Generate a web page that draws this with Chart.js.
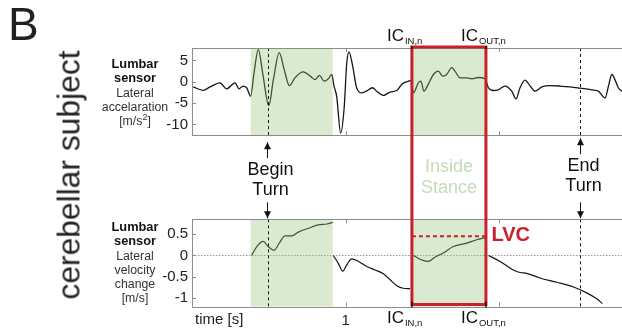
<!DOCTYPE html>
<html>
<head>
<meta charset="utf-8">
<script src="https://cdn.jsdelivr.net/npm/chart.js@4.4.1/dist/chart.umd.min.js"></script>
<style>
  body { margin: 0; background: #fff; }
  #wrap { position: relative; width: 622px; height: 329px; overflow: hidden;
          font-family: "Liberation Sans", Arial, sans-serif; color: #222; }
  #chart { position: absolute; left: 0; top: 0; }
  .letter { position: absolute; left: 8px; top: 1px; font-size: 46px; line-height: 46px; }
  .subject { position: absolute; left: 69px; top: 175px; font-size: 31.8px; line-height: 31px;
             white-space: nowrap; transform: translate(-50%, -50%) rotate(-90deg); }
  .sensor { position: absolute; left: 88px; width: 94px; text-align: center;
            font-size: 12.3px; line-height: 14.3px; color: #333; }
  .sensor b { color: #111; font-size: 12.8px; }
</style>
</head>
<body>
<div id="wrap">
  <canvas id="chart" width="622" height="329"></canvas>
  <div class="letter">B</div>
  <div class="subject">cerebellar subject</div>
  <div class="sensor" style="top:57px"><b>Lumbar<br>sensor</b><br>Lateral<br>accelaration<br>[m/s<sup style="font-size:9px;line-height:0">2</sup>]</div>
  <div class="sensor" style="top:220px"><b>Lumbar<br>sensor</b><br>Lateral<br>velocity<br>change<br>[m/s]</div>
</div>
<script>
// time axis [s]
const xTicks = [0.5, 1, 1.5];

// lateral acceleration [m/s^2]
const accTime = [0.504, 0.536, 0.559, 0.591, 0.613, 0.640, 0.653, 0.666, 0.678, 0.691,
  0.702, 0.716, 0.730, 0.750, 0.765, 0.784, 0.800, 0.817, 0.835, 0.862,
  0.887, 0.901, 0.915, 0.930, 0.944, 0.955, 0.962, 0.971, 0.984, 0.995,
  1.004, 1.011, 1.023, 1.036, 1.053, 1.067, 1.088, 1.101, 1.123, 1.145,
  1.168, 1.184, 1.203, 1.213, 1.221, 1.237, 1.245, 1.255, 1.269, 1.286,
  1.302, 1.316, 1.329, 1.346, 1.356, 1.373, 1.395, 1.411, 1.432, 1.454,
  1.465, 1.481, 1.497, 1.519, 1.541, 1.555, 1.568, 1.584, 1.601, 1.617,
  1.639, 1.666, 1.698, 1.731, 1.763, 1.802, 1.823, 1.845, 1.856, 1.867,
  1.877, 1.888, 1.900];
const accValue = [-1.2, -2.0, -1.2, -0.25, -1.65, -0.25, -1.65, -1.0, -1.4, -3.4,
  2.1, 7.6, 2.1, -5.6, 0.5, 6.8, 2.9, -0.9, 0.9, 2.3,
  1.2, 0.5, 1.5, 0.15, 0.7, 1.7, -0.9, -3.4, -12.0, -6.5,
  4.5, 7.0, 3.7, -1.4, -2.6, -2.2, -1.4, -2.2, -3.2, -2.4,
  -2.0, -0.5, 0.1, 0.3, -2.6, -0.25, 0.15, -2.2, -0.6, 1.7,
  2.5, 1.3, 1.7, 3.3, 2.5, 0.9, 0.9, 0.7, 1.0, 0.7,
  -1.4, -2.05, -1.9, -1.0, -2.2, -4.0, -1.4, 0.4, -1.0, -2.2,
  -1.2, -0.9, -1.0, -1.2, -1.5, -1.9, -2.2, -3.8, -1.0, 1.7,
  0.5, -1.4, -2.2];

// lateral velocity change [m/s], one piece per stance (null = break)
const velTime = [0.694, 0.711, 0.732, 0.748, 0.767, 0.784, 0.803, 0.825, 0.846, 0.879, 0.911, 0.939, 0.958,
  0.959,
  0.960, 0.976, 0.991, 1.004, 1.020, 1.042, 1.069, 1.096, 1.123, 1.145, 1.167, 1.188, 1.210,
  1.215,
  1.221, 1.242, 1.269, 1.291, 1.318, 1.351, 1.395, 1.427, 1.454,
  1.460,
  1.465, 1.503, 1.546, 1.568, 1.590, 1.633, 1.688, 1.742, 1.785, 1.818, 1.836];
const velValue = [0, 0.21, 0.33, 0.21, 0.12, 0.29, 0.46, 0.46, 0.55, 0.64, 0.72, 0.74, 0.78,
  null,
  0, -0.18, -0.37, -0.22, -0.08, -0.14, -0.26, -0.34, -0.43, -0.57, -0.71, -0.77, -0.78,
  null,
  0, -0.09, -0.14, -0.04, 0.06, 0.21, 0.29, 0.37, 0.42,
  null,
  0, -0.14, -0.34, -0.40, -0.42, -0.53, -0.63, -0.74, -0.88, -1.02, -1.13];

const accTicks = [-10, -5, 0, 5];
const velTicks = [-1, -0.5, 0, 0.5];

// events
const shadeStart = [0.691, 1.216];
const shadeEnd = [0.958, 1.457];
const turnTimes = [0.748, 1.763];
const turnLabels = [['Begin', 'Turn'], ['End', 'Turn']];
const icIn = 1.216;
const icOut = 1.457;
const lvcValue = 0.45;

const FONT = '"Liberation Sans", Arial, sans-serif';
const AXIS_GREY = '#8c8c8c';
const RED = '#c8212b';

function hline(ctx, x0, x1, y) {
  ctx.beginPath(); ctx.moveTo(x0, y); ctx.lineTo(x1, y); ctx.stroke();
}
function vline(ctx, x, y0, y1) {
  ctx.beginPath(); ctx.moveTo(x, y0); ctx.lineTo(x, y1); ctx.stroke();
}
function arrow(ctx, x, y0, y1) {
  vline(ctx, x, y0, y1);
  const d = y1 > y0 ? 1 : -1;
  ctx.beginPath();
  ctx.moveTo(x, y1);
  ctx.lineTo(x - 3.5, y1 - d * 7);
  ctx.lineTo(x + 3.5, y1 - d * 7);
  ctx.closePath();
  ctx.fill();
}
function icLabel(ctx, x, yBase, sub) {
  ctx.fillStyle = '#111';
  ctx.textAlign = 'left';
  ctx.textBaseline = 'alphabetic';
  ctx.font = '17px ' + FONT;
  const left = x - 25;
  ctx.fillText('IC', left, yBase);
  const w = ctx.measureText('IC').width;
  ctx.font = '9.5px ' + FONT;
  ctx.fillText(sub, left + w + 1, yBase + 3);
}

const px = v => Math.round(v) + 0.5;

const overlay = {
  id: 'overlay',
  beforeDatasetsDraw(chart) {
    const {ctx, scales: {x, yVel}} = chart;
    ctx.save();
    ctx.strokeStyle = '#9a9a9a';
    ctx.lineWidth = 1;
    ctx.setLineDash([1.5, 1.5]);
    hline(ctx, x.left, x.right, px(yVel.getPixelForValue(0)));
    ctx.restore();
  },
  afterDatasetsDraw(chart) {
    const {ctx, scales: {x, yAcc, yVel}} = chart;
    const panels = [yAcc, yVel];
    ctx.save();

    // green stance shading
    ctx.fillStyle = 'rgba(150, 195, 120, 0.35)';
    shadeStart.forEach((t, i) => {
      const a = x.getPixelForValue(t), b = x.getPixelForValue(shadeEnd[i]);
      panels.forEach(s => ctx.fillRect(a, s.top, b - a, s.bottom - s.top));
    });

    // turn markers
    ctx.strokeStyle = '#111';
    ctx.lineWidth = 1;
    ctx.setLineDash([3, 3]);
    turnTimes.forEach(t => {
      const xp = px(x.getPixelForValue(t));
      panels.forEach(s => vline(ctx, xp, s.top, s.bottom));
    });
    ctx.setLineDash([]);

    // panel frames and inward ticks
    ctx.strokeStyle = AXIS_GREY;
    panels.forEach(s => {
      hline(ctx, x.left, x.right, px(s.top));
      hline(ctx, x.left, x.right, px(s.bottom));
      vline(ctx, px(x.left), s.top, s.bottom);
      xTicks.forEach(t => {
        const xp = px(x.getPixelForValue(t));
        vline(ctx, xp, s.top, s.top + 4);
        vline(ctx, xp, s.bottom - 4, s.bottom);
      });
    });
    accTicks.forEach(v => hline(ctx, x.left, x.left + 4, px(yAcc.getPixelForValue(v))));
    velTicks.forEach(v => hline(ctx, x.left, x.left + 4, px(yVel.getPixelForValue(v))));

    // turn labels with arrows between the panels
    const gTop = yAcc.bottom, gBot = yVel.top;
    ctx.fillStyle = '#111';
    ctx.strokeStyle = '#111';
    ctx.font = '18px ' + FONT;
    ctx.textAlign = 'center';
    ctx.textBaseline = 'middle';
    turnTimes.forEach((t, i) => {
      const xp = px(x.getPixelForValue(t)) - (i === 0 ? 1 : 0);
      const off = i === 0 ? 0 : -4;
      arrow(ctx, xp, gTop + 23 + off, gTop + 7 + off);
      ctx.fillText(turnLabels[i][0], xp + 3, gTop + 35 + off);
      ctx.fillText(turnLabels[i][1], xp + 3, gTop + 55 + off);
      arrow(ctx, xp, gBot - 17, gBot - 1);
    });

    // inside stance label
    const xIn = x.getPixelForValue(icIn), xOut = x.getPixelForValue(icOut);
    ctx.fillStyle = 'rgb(197, 219, 185)';
    ctx.fillText('Inside', (xIn + xOut) / 2, gTop + 32);
    ctx.fillText('Stance', (xIn + xOut) / 2, gTop + 53);

    // LVC dashed level
    const yL = yVel.getPixelForValue(lvcValue);
    ctx.strokeStyle = RED;
    ctx.lineWidth = 2;
    ctx.setLineDash([4, 3]);
    hline(ctx, xIn, xOut, yL);
    ctx.setLineDash([]);

    // red stance box
    ctx.lineWidth = 3;
    ctx.strokeRect(xIn, yAcc.top - 1, xOut - xIn, yVel.bottom - 2 - (yAcc.top - 1));
    ctx.strokeStyle = '#111';
    ctx.lineWidth = 1.5;
    [xIn, xOut].forEach(xp => {
      vline(ctx, xp, yVel.bottom - 5, yVel.bottom + 1);
      vline(ctx, xp, yAcc.top - 2, yAcc.top + 1);
    });

    ctx.fillStyle = RED;
    ctx.font = 'bold 20px ' + FONT;
    ctx.textAlign = 'left';
    ctx.textBaseline = 'middle';
    ctx.fillText('LVC', xOut + 5.5, yL - 1);

    // IC labels
    icLabel(ctx, xIn, yAcc.top - 7, 'IN,n');
    icLabel(ctx, xOut, yAcc.top - 7, 'OUT,n');
    icLabel(ctx, xIn, yVel.bottom + 16.5, 'IN,n');
    icLabel(ctx, xOut, yVel.bottom + 16.5, 'OUT,n');

    // time axis title
    ctx.fillStyle = '#222';
    ctx.font = '15px ' + FONT;
    ctx.textAlign = 'left';
    ctx.textBaseline = 'middle';
    ctx.fillText('time [s]', x.left + 3, yVel.bottom + 13);

    ctx.restore();
  }
};

const tickFont = { family: FONT, size: 15 };
const yFit = s => { s.width = 40; };
const noGrid = { display: false, drawTicks: false };

new Chart(document.getElementById('chart'), {
  type: 'line',
  data: {
    datasets: [
      {
        label: 'Lateral acceleration',
        data: accTime.map((t, i) => ({ x: t, y: accValue[i] })),
        yAxisID: 'yAcc',
        borderColor: '#151515',
        borderWidth: 1.3,
        pointRadius: 0,
        cubicInterpolationMode: 'monotone'
      },
      {
        label: 'Lateral velocity change',
        data: velTime.map((t, i) => ({ x: t, y: velValue[i] })),
        yAxisID: 'yVel',
        borderColor: '#151515',
        borderWidth: 1.2,
        pointRadius: 0,
        spanGaps: false,
        cubicInterpolationMode: 'monotone'
      }
    ]
  },
  options: {
    responsive: false,
    animation: false,
    devicePixelRatio: 1,
    layout: { padding: { left: 152, right: 0, top: 48, bottom: 0 } },
    plugins: { legend: { display: false }, tooltip: { enabled: false } },
    scales: {
      x: {
        type: 'linear', position: 'bottom', min: 0.5, max: 1.9,
        afterBuildTicks: s => { s.ticks = xTicks.map(v => ({ value: v })); },
        ticks: { callback: v => (v === 1 ? '1' : ''), font: tickFont, color: '#222',
                 padding: 5, maxRotation: 0, autoSkip: false },
        grid: noGrid,
        border: { display: false },
        afterFit: s => { s.height = 22.5; }
      },
      yVel: {
        type: 'linear', position: 'left', stack: 'panels', stackWeight: 87,
        min: -1.2, max: 0.85,
        afterBuildTicks: s => { s.ticks = velTicks.map(v => ({ value: v })); },
        ticks: { callback: v => String(v), font: tickFont, color: '#222', padding: 4, autoSkip: false },
        grid: noGrid,
        border: { display: false },
        afterFit: yFit
      },
      yGap: {
        type: 'linear', position: 'left', stack: 'panels', stackWeight: 84,
        min: 0, max: 1,
        ticks: { display: false },
        grid: noGrid,
        border: { display: false },
        afterFit: yFit
      },
      yAcc: {
        type: 'linear', position: 'left', stack: 'panels', stackWeight: 87,
        min: -12.5, max: 7.9,
        afterBuildTicks: s => { s.ticks = accTicks.map(v => ({ value: v })); },
        ticks: { callback: v => String(v), font: tickFont, color: '#222', padding: 4, autoSkip: false },
        grid: noGrid,
        border: { display: false },
        afterFit: yFit
      }
    }
  },
  plugins: [overlay]
});
</script>
</body>
</html>
